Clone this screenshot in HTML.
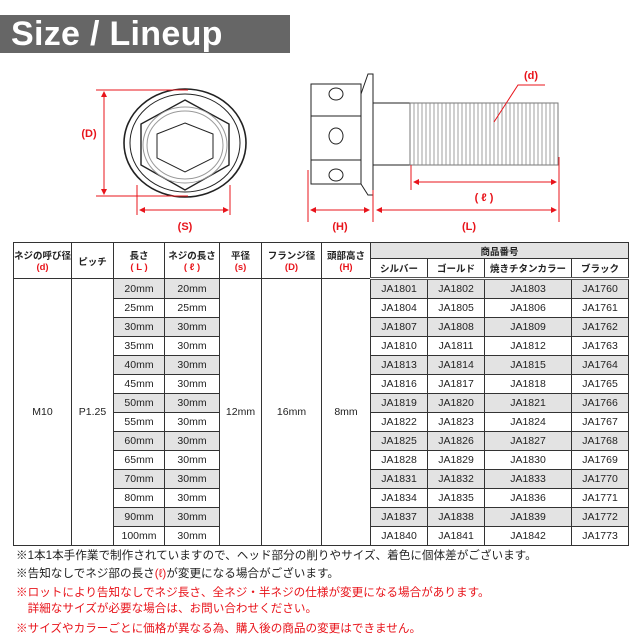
<!DOCTYPE html>
<html><head><meta charset="utf-8"><style>
body{margin:0;width:640px;height:640px;background:#fff;position:relative;overflow:hidden;font-family:"Liberation Sans","Noto Sans CJK JP",sans-serif}
#title{position:absolute;left:0;top:15px;width:290px;height:38px;background:#666;color:#fff;font-weight:bold;font-size:34px;line-height:38px;padding-left:11px;box-sizing:border-box;letter-spacing:0.3px}
table{position:absolute;left:13px;top:242px;border-collapse:collapse;table-layout:fixed;font-size:10.5px;color:#222}
td{border:1px solid #333;text-align:center;padding:0;height:18px;white-space:nowrap;overflow:hidden}
.h td{font-size:9.5px;font-weight:bold}
.r{color:#e8141b;font-weight:bold}
.g{background:#e3e3e3}
tr.sep td{border-bottom:3px double #555}
.notes{position:absolute;left:16px;font-size:11.6px;color:#222;white-space:nowrap}
.red{color:#e8141b}
</style></head><body>
<div id="title">Size / Lineup</div>
<svg width="640" height="240" style="position:absolute;left:0;top:0" font-family="Liberation Sans" font-weight="bold">
<g fill="none" stroke="#222">
<ellipse cx="185" cy="143" rx="61" ry="54" stroke-width="1.6"/>
<ellipse cx="185" cy="143" rx="55" ry="49"/>
<polygon points="185,100 229,124 229,165 185,190 141,165 141,124" stroke-width="1.4"/>
<ellipse cx="185" cy="145" rx="42" ry="38" stroke="#999"/>
<ellipse cx="185" cy="145" rx="38" ry="34" stroke="#999"/>
<polygon points="185,123 213,134 213,158 185,172 157,158 157,134"/>
<rect x="311" y="84" width="50" height="100"/>
<line x1="311" y1="116" x2="361" y2="116"/><line x1="311" y1="160" x2="361" y2="160"/>
<polygon points="361,94 368,74 373,74 373,195 368,195 361,184"/>
<rect x="373" y="103" width="37" height="62"/>
<ellipse cx="336" cy="94" rx="7" ry="6"/><ellipse cx="336" cy="136" rx="7" ry="8"/><ellipse cx="336" cy="175" rx="7" ry="6"/>
<rect x="410" y="103" width="148" height="62" stroke="#777"/>
</g>
<g stroke="#888" stroke-width="0.8">
<path d="M414 103V165M418 103V165M422 103V165M426 103V165M430 103V165M434 103V165M438 103V165M442 103V165M446 103V165M450 103V165M454 103V165M458 103V165M462 103V165M466 103V165M470 103V165M474 103V165M478 103V165M482 103V165M486 103V165M490 103V165M494 103V165M498 103V165M502 103V165M506 103V165M510 103V165M514 103V165M518 103V165M522 103V165M526 103V165M530 103V165M534 103V165M538 103V165M542 103V165M546 103V165M550 103V165M554 103V165"/>
</g>
<g stroke="#e8141b" fill="none" stroke-width="1">
<line x1="96" y1="90" x2="188" y2="90"/><line x1="96" y1="196" x2="188" y2="196"/>
<line x1="104" y1="93" x2="104" y2="193"/>
<line x1="137" y1="185" x2="137" y2="215"/><line x1="230" y1="185" x2="230" y2="215"/>
<line x1="141" y1="210" x2="227" y2="210"/>
<line x1="308" y1="170" x2="308" y2="222"/><line x1="373" y1="190" x2="373" y2="222"/><line x1="559" y1="157" x2="559" y2="222"/>
<line x1="411" y1="165" x2="411" y2="190"/>
<line x1="311" y1="210" x2="369" y2="210"/><line x1="377" y1="210" x2="556" y2="210"/>
<line x1="414" y1="182" x2="556" y2="182"/>
<polyline points="494,122 518,85 545,85"/>
</g>
<g fill="#e8141b">
<path d="M104 91l-3 6h6zM104 195l-3-6h6zM139 210l6-3v6zM229 210l-6-3v6zM310 210l6-3v6zM370 210l-6-3v6zM376 210l6-3v6zM557 210l-6-3v6zM413 182l6-3v6zM557 182l-6-3v6z"/>
</g>
<g fill="#e8141b" font-size="11" text-anchor="middle">
<text x="89" y="137">(D)</text><text x="185" y="230">(S)</text><text x="340" y="230">(H)</text><text x="469" y="230">(L)</text><text x="484" y="201">( ℓ )</text><text x="531" y="79">(d)</text>
</g>
</svg>
<table>
<colgroup><col style="width:57px"><col style="width:42px"><col style="width:51px"><col style="width:55px"><col style="width:42px"><col style="width:60px"><col style="width:49px"><col style="width:57px"><col style="width:57px"><col style="width:87px"><col style="width:57px"></colgroup>
<tr class="h"><td rowspan="2">ネジの呼び径<br><span class="r">(d)</span></td><td rowspan="2">ピッチ</td><td rowspan="2">長さ<br><span class="r">( L )</span></td><td rowspan="2">ネジの長さ<br><span class="r">( ℓ )</span></td><td rowspan="2">平径<br><span class="r">(s)</span></td><td rowspan="2">フランジ径<br><span class="r">(D)</span></td><td rowspan="2">頭部高さ<br><span class="r">(H)</span></td><td colspan="4" class="g" style="height:15px">商品番号</td></tr>
<tr class="h sep"><td>シルバー</td><td>ゴールド</td><td>焼きチタンカラー</td><td>ブラック</td></tr>
<tr><td rowspan="14">M10</td><td rowspan="14">P1.25</td><td class="g">20mm</td><td class="g">20mm</td><td rowspan="14">12mm</td><td rowspan="14">16mm</td><td rowspan="14">8mm</td><td class="g">JA1801</td><td class="g">JA1802</td><td class="g">JA1803</td><td class="g">JA1760</td></tr>
<tr><td>25mm</td><td>25mm</td><td>JA1804</td><td>JA1805</td><td>JA1806</td><td>JA1761</td></tr>
<tr class="g"><td>30mm</td><td>30mm</td><td>JA1807</td><td>JA1808</td><td>JA1809</td><td>JA1762</td></tr>
<tr><td>35mm</td><td>30mm</td><td>JA1810</td><td>JA1811</td><td>JA1812</td><td>JA1763</td></tr>
<tr class="g"><td>40mm</td><td>30mm</td><td>JA1813</td><td>JA1814</td><td>JA1815</td><td>JA1764</td></tr>
<tr><td>45mm</td><td>30mm</td><td>JA1816</td><td>JA1817</td><td>JA1818</td><td>JA1765</td></tr>
<tr class="g"><td>50mm</td><td>30mm</td><td>JA1819</td><td>JA1820</td><td>JA1821</td><td>JA1766</td></tr>
<tr><td>55mm</td><td>30mm</td><td>JA1822</td><td>JA1823</td><td>JA1824</td><td>JA1767</td></tr>
<tr class="g"><td>60mm</td><td>30mm</td><td>JA1825</td><td>JA1826</td><td>JA1827</td><td>JA1768</td></tr>
<tr><td>65mm</td><td>30mm</td><td>JA1828</td><td>JA1829</td><td>JA1830</td><td>JA1769</td></tr>
<tr class="g"><td>70mm</td><td>30mm</td><td>JA1831</td><td>JA1832</td><td>JA1833</td><td>JA1770</td></tr>
<tr><td>80mm</td><td>30mm</td><td>JA1834</td><td>JA1835</td><td>JA1836</td><td>JA1771</td></tr>
<tr class="g"><td>90mm</td><td>30mm</td><td>JA1837</td><td>JA1838</td><td>JA1839</td><td>JA1772</td></tr>
<tr><td>100mm</td><td>30mm</td><td>JA1840</td><td>JA1841</td><td>JA1842</td><td>JA1773</td></tr>
</table>
<div class="notes" style="top:547px">※1本1本手作業で制作されていますので、ヘッド部分の削りやサイズ、着色に個体差がございます。</div>
<div class="notes" style="top:565px">※告知なしでネジ部の長さ<span class="red">(ℓ)</span>が変更になる場合がございます。</div>
<div class="notes red" style="top:584px">※ロットにより告知なしでネジ長さ、全ネジ・半ネジの仕様が変更になる場合があります。</div>
<div class="notes red" style="top:600px">　詳細なサイズが必要な場合は、お問い合わせください。</div>
<div class="notes red" style="top:620px">※サイズやカラーごとに価格が異なる為、購入後の商品の変更はできません。</div>
</body></html>
